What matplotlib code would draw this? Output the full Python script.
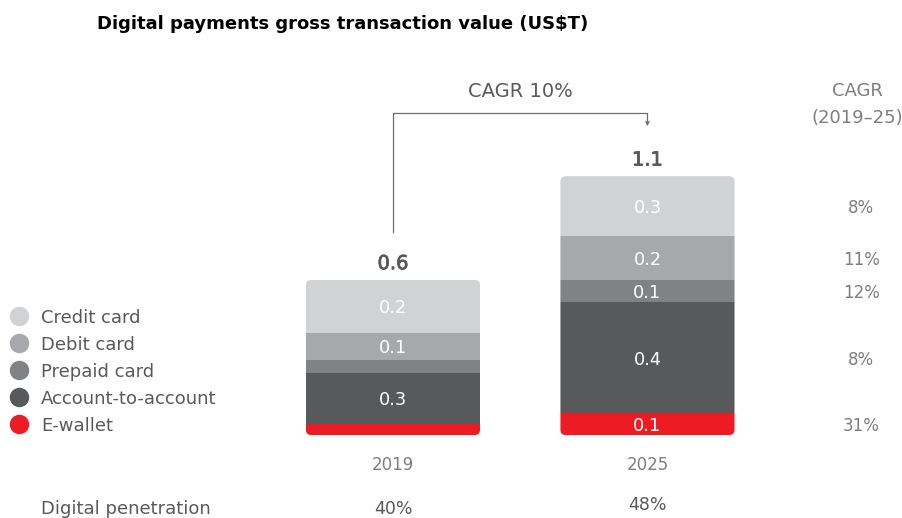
import matplotlib.pyplot as plt
import matplotlib.patheffects as pe
from matplotlib.patches import FancyBboxPatch

plt.rcParams['font.family'] = ['DejaVu Sans']

# data
years = ["2019", "2025"]
segments = ["E-wallet", "Account-to-account", "Prepaid card", "Debit card", "Credit card"]
values_2019 = [0.047, 0.217, 0.055, 0.115, 0.225]
values_2025 = [0.093, 0.471, 0.093, 0.187, 0.255]
labels_2019 = ["", "0.3", "", "0.1", "0.2"]
labels_2025 = ["0.1", "0.4", "0.1", "0.2", "0.3"]
totals = ["0.6", "1.1"]
cagr_segments = ["31%", "8%", "12%", "11%", "8%"]
penetration = ["40%", "48%"]

colors = ["#ed1c24", "#58595b", "#808285", "#a7a8ab", "#d1d2d4"]
text_gray = "#58595b"
light_gray = "#7d7e81"

W, H = 903, 518
fig = plt.figure(figsize=(W / 100, H / 100), dpi=100)
ax = fig.add_axes([0, 0, 1, 1])
ax.set_xlim(-1.544, 2.004)
ax.set_ylim(-0.352, 1.847)
ax.axis("off")


def fpx(x, y):
    # pixel position (from top-left) -> figure fraction
    return x / W, 1 - y / H


x_pos = [0, 1]
width = 0.684
all_vals = [values_2019, values_2025]
all_labels = [labels_2019, labels_2025]

for xi, vals, labs in zip(x_pos, all_vals, all_labels):
    total = sum(vals)
    # rounded outline used to clip the stacked segments
    clip = FancyBboxPatch((xi - width / 2, 0), width, total,
                          boxstyle="round,pad=0,rounding_size=0.022",
                          facecolor="none", edgecolor="none", transform=ax.transData)
    ax.add_patch(clip)
    bottom = 0
    for v, c, lab in zip(vals, colors, labs):
        bars = ax.bar(xi, v, width=width, bottom=bottom, color=c, linewidth=0)
        for b in bars:
            b.set_clip_path(clip)
        if lab:
            ax.text(xi, bottom + v / 2, lab, ha="center", va="center_baseline",
                    color="white", fontsize=12.8)
        bottom += v

medium = [pe.withStroke(linewidth=0.6, foreground=text_gray)]
for xi, vals, t in zip(x_pos, all_vals, totals):
    ax.text(xi, sum(vals) + 0.077, t, ha="center", va="center_baseline",
            color=text_gray, fontsize=14, path_effects=medium)

# CAGR bracket
y_start = sum(values_2019) + 0.203
y_top = 1.367
ax.plot([0, 0, 1, 1], [y_start, y_top, y_top, 1.33], color="#6d6e71", lw=0.9)
ax.annotate("", xy=(1, 1.30), xytext=(1, 1.335),
            arrowprops=dict(arrowstyle="->", color="#6d6e71", lw=0.9,
                            mutation_scale=6))
ax.text(0.5, 1.467, "CAGR 10%", ha="center", va="center_baseline", color=text_gray, fontsize=14)

# year labels and penetration
for xi, yr in zip(x_pos, years):
    ax.text(xi, -0.12, yr, ha="center", va="center_baseline", color=light_gray, fontsize=12)
fig.text(*fpx(393, 507), penetration[0], ha="center", va="center_baseline", color=text_gray, fontsize=12.5)
fig.text(*fpx(647, 503), penetration[1], ha="center", va="center_baseline", color=text_gray, fontsize=12.5)
fig.text(*fpx(41, 507), "Digital penetration", ha="left", va="center_baseline", color=text_gray, fontsize=13)

# legend
legend_y = [424, 397, 370, 343, 316]
for name, c, ly in zip(segments, colors, legend_y):
    fx, fy = fpx(19, ly)
    fig.add_artist(plt.Line2D([fx], [fy], marker="o", markersize=13,
                              color=c, linestyle="none"))
    fig.text(*fpx(41, ly), name, ha="left", va="center_baseline", color=text_gray, fontsize=13)

# right-hand CAGR column
fig.text(*fpx(857, 89), "CAGR", ha="center", va="center_baseline", color=light_gray, fontsize=13)
fig.text(*fpx(857, 116), "(2019\u201325)", ha="center", va="center_baseline", color=light_gray, fontsize=13)
bottom = 0
for v, lab in zip(values_2025, cagr_segments):
    ax.text(1.84, bottom + v / 2, lab, ha="center", va="center_baseline", color=light_gray, fontsize=12)
    bottom += v

fig.text(*fpx(97, 22), "Digital payments gross transaction value (US$T)",
         ha="left", va="center_baseline", color="black", fontsize=13, fontweight="bold")

fig.savefig("out.png", dpi=100)
